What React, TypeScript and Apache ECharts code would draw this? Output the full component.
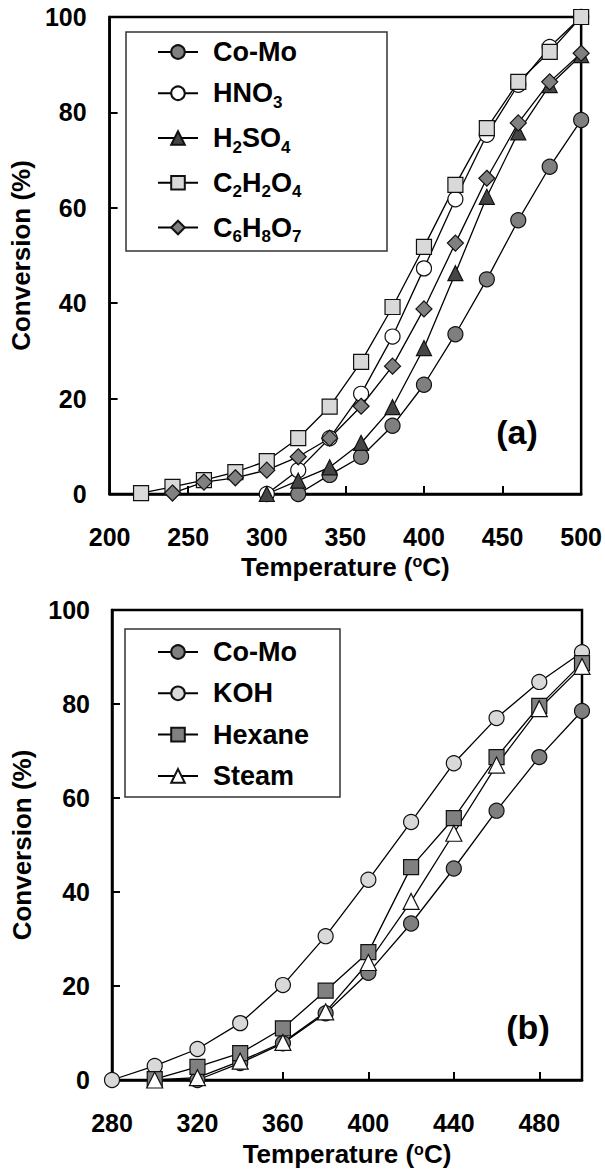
import React, { useEffect, useRef } from "react";
import * as echarts from "echarts";

// ---------- Data: panel (a) ----------
const aComoX = [320, 340, 360, 380, 400, 420, 440, 460, 480, 500];
const aComoY = [0, 4, 7.8, 14.3, 22.9, 33.5, 45, 57.4, 68.6, 78.4];
const aHno3X = [300, 320, 340, 360, 380, 400, 420, 440, 460, 480, 500];
const aHno3Y = [0, 5, 11.7, 21, 33, 47.3, 61.8, 75.3, 85.8, 93.7, 100];
const aH2so4X = [300, 320, 340, 360, 380, 400, 420, 440, 460, 480, 500];
const aH2so4Y = [0, 2.8, 5.6, 10.7, 18.2, 30.6, 46.3, 62.3, 75.8, 85.7, 92];
const aC2X = [220, 240, 260, 280, 300, 320, 340, 360, 380, 400, 420, 440, 460, 480, 500];
const aC2Y = [0.2, 1.5, 2.9, 4.6, 6.9, 11.7, 18.3, 27.7, 39.2, 51.8, 64.8, 76.7, 86.4, 92.7, 100];
const aC6X = [240, 260, 280, 300, 320, 340, 360, 380, 400, 420, 440, 460, 480, 500];
const aC6Y = [0.2, 2.5, 3.4, 5, 7.8, 11.7, 18.4, 26.8, 38.8, 52.6, 66.2, 77.8, 86.4, 92.4];

// ---------- Data: panel (b) ----------
const bComoX = [320, 340, 360, 380, 400, 420, 440, 460, 480, 500];
const bComoY = [0, 3.6, 7.8, 14.2, 22.8, 33.3, 45, 57.3, 68.7, 78.5];
const bKohX = [280, 300, 320, 340, 360, 380, 400, 420, 440, 460, 480, 500];
const bKohY = [0, 3, 6.6, 12.1, 20.2, 30.6, 42.6, 54.9, 67.4, 77, 84.7, 91];
const bHexX = [300, 320, 340, 360, 380, 400, 420, 440, 460, 480, 500];
const bHexY = [0.2, 2.8, 5.7, 11, 19, 27.2, 45.3, 55.7, 68.7, 79.6, 88.7];
const bSteamX = [300, 320, 340, 360, 380, 400, 420, 440, 460, 480, 500];
const bSteamY = [0, 0.5, 4, 8, 14.5, 25, 38, 52.5, 67, 79, 88];

const namesA = ["Co-Mo", "HNO3", "H2SO4", "C2H2O4", "C6H8O7"];
const labelsA: Record<string, string> = {
  "Co-Mo": "Co-Mo",
  HNO3: "HNO{sub|3}",
  H2SO4: "H{sub|2}SO{sub|4}",
  C2H2O4: "C{sub|2}H{sub|2}O{sub|4}",
  C6H8O7: "C{sub|6}H{sub|8}O{sub|7}",
};
const namesB = ["Co-Mo", "KOH", "Hexane", "Steam"];

const FONT = "'Liberation Sans', Arial, sans-serif";

const zip = (xs: number[], ys: number[]) => xs.map((x, i) => [x, ys[i]]);

const mkSeries = (name: string, xs: number[], ys: number[], symbol: string, size: number, fill: string) => ({
  name,
  type: "line",
  data: zip(xs, ys),
  symbol,
  symbolSize: size,
  clip: false,
  lineStyle: { color: "#000", width: 1.3 },
  itemStyle: { color: fill, borderColor: "#111", borderWidth: 1.2 },
  emphasis: { disabled: true },
});

const axisCommon = {
  axisLine: { show: true, lineStyle: { color: "#000", width: 2.5 } },
  axisTick: { show: true, inside: true, length: 8, lineStyle: { color: "#000", width: 2 } },
  splitLine: { show: false },
};

const labelStyle = { color: "#000", fontFamily: FONT, fontWeight: "bold", fontSize: 25 };
const nameStyle = {
  color: "#000",
  fontFamily: FONT,
  fontWeight: "bold",
  fontSize: 26,
  rich: {
    sup: { fontSize: 16, fontWeight: "bold", fontFamily: FONT, color: "#000", padding: [0, 0, 10, 0], lineHeight: 7 },
  },
};

const legendText = (width: number) => ({
  color: "#000",
  fontFamily: FONT,
  fontWeight: "bold",
  fontSize: 27,
  lineHeight: 28,
  width,
  padding: [0, 0, 0, 10],
  rich: {
    sub: { fontSize: 17, fontWeight: "bold", fontFamily: FONT, color: "#000", padding: [18, 0, 0, 0], lineHeight: 7 },
  },
});

function buildA() {
  return {
    animation: false,
    grid: { left: 103, right: 22, top: 17, bottom: 92, show: true, borderColor: "#000", borderWidth: 2.5 },
    xAxis: {
      type: "value",
      min: 200,
      max: 500,
      interval: 50,
      ...axisCommon,
      axisLabel: { ...labelStyle, margin: 30 },
      name: "Temperature ({sup|o}C)",
      nameLocation: "middle",
      nameGap: 58,
      nameTextStyle: nameStyle,
    },
    yAxis: {
      type: "value",
      min: 0,
      max: 100,
      interval: 20,
      ...axisCommon,
      axisLabel: { ...labelStyle, margin: 23 },
      name: "Conversion (%)",
      nameLocation: "middle",
      nameGap: 68,
      nameTextStyle: nameStyle,
    },
    legend: {
      orient: "vertical",
      left: 126,
      top: 32,
      padding: [6, 34, 6, 31],
      itemGap: 9.75,
      itemWidth: 40,
      itemHeight: 17,
      borderColor: "#333",
      borderWidth: 1.5,
      selectedMode: false,
      data: namesA,
      formatter: (n: string) => labelsA[n],
      textStyle: legendText(140),
    },
    graphic: [
      {
        type: "text",
        x: 517,
        y: 432,
        style: { text: "(a)", fill: "#000", font: `bold 34px ${FONT}`, align: "center", verticalAlign: "middle" },
      },
    ],
    series: [
      mkSeries("Co-Mo", aComoX, aComoY, "circle", 15, "#7f7f7f"),
      mkSeries("HNO3", aHno3X, aHno3Y, "circle", 15, "#ffffff"),
      mkSeries("H2SO4", aH2so4X, aH2so4Y, "triangle", 15, "#454545"),
      mkSeries("C2H2O4", aC2X, aC2Y, "rect", 15, "#d9d9d9"),
      mkSeries("C6H8O7", aC6X, aC6Y, "diamond", 16, "#808080"),
    ],
  };
}

function buildB() {
  return {
    animation: false,
    grid: { left: 112, right: 23, top: 24, bottom: 92, show: true, borderColor: "#000", borderWidth: 2.5 },
    xAxis: {
      type: "value",
      min: 280,
      max: 500,
      interval: 40,
      ...axisCommon,
      axisLabel: { ...labelStyle, margin: 30, showMaxLabel: false },
      name: "Temperature ({sup|o}C)",
      nameLocation: "middle",
      nameGap: 61,
      nameTextStyle: nameStyle,
    },
    yAxis: {
      type: "value",
      min: 0,
      max: 100,
      interval: 20,
      ...axisCommon,
      axisLabel: { ...labelStyle, margin: 22 },
      name: "Conversion (%)",
      nameLocation: "middle",
      nameGap: 77,
      nameTextStyle: nameStyle,
    },
    legend: {
      orient: "vertical",
      left: 125,
      top: 43,
      padding: [9, 17, 7, 32],
      itemGap: 13.3,
      itemWidth: 40,
      itemHeight: 17,
      borderColor: "#333",
      borderWidth: 1.5,
      selectedMode: false,
      data: namesB,
      textStyle: legendText(110),
    },
    graphic: [
      {
        type: "text",
        x: 528,
        y: 441,
        style: { text: "(b)", fill: "#000", font: `bold 34px ${FONT}`, align: "center", verticalAlign: "middle" },
      },
    ],
    series: [
      mkSeries("Co-Mo", bComoX, bComoY, "circle", 15, "#7f7f7f"),
      mkSeries("KOH", bKohX, bKohY, "circle", 15, "#d9d9d9"),
      mkSeries("Hexane", bHexX, bHexY, "rect", 15, "#808080"),
      mkSeries("Steam", bSteamX, bSteamY, "triangle", 16, "#ffffff"),
    ],
  };
}

export default function App() {
  const refA = useRef<HTMLDivElement>(null);
  const refB = useRef<HTMLDivElement>(null);
  useEffect(() => {
    document.body.style.margin = "0";
    const a = echarts.init(refA.current!, undefined, { renderer: "svg" });
    const b = echarts.init(refB.current!, undefined, { renderer: "svg" });
    a.setOption(buildA() as any);
    b.setOption(buildB() as any);
    return () => {
      a.dispose();
      b.dispose();
    };
  }, []);
  return (
    <div style={{ width: 605, height: 1172, background: "#fff" }}>
      <div ref={refA} style={{ width: 605, height: 586 }} />
      <div ref={refB} style={{ width: 605, height: 586 }} />
    </div>
  );
}
